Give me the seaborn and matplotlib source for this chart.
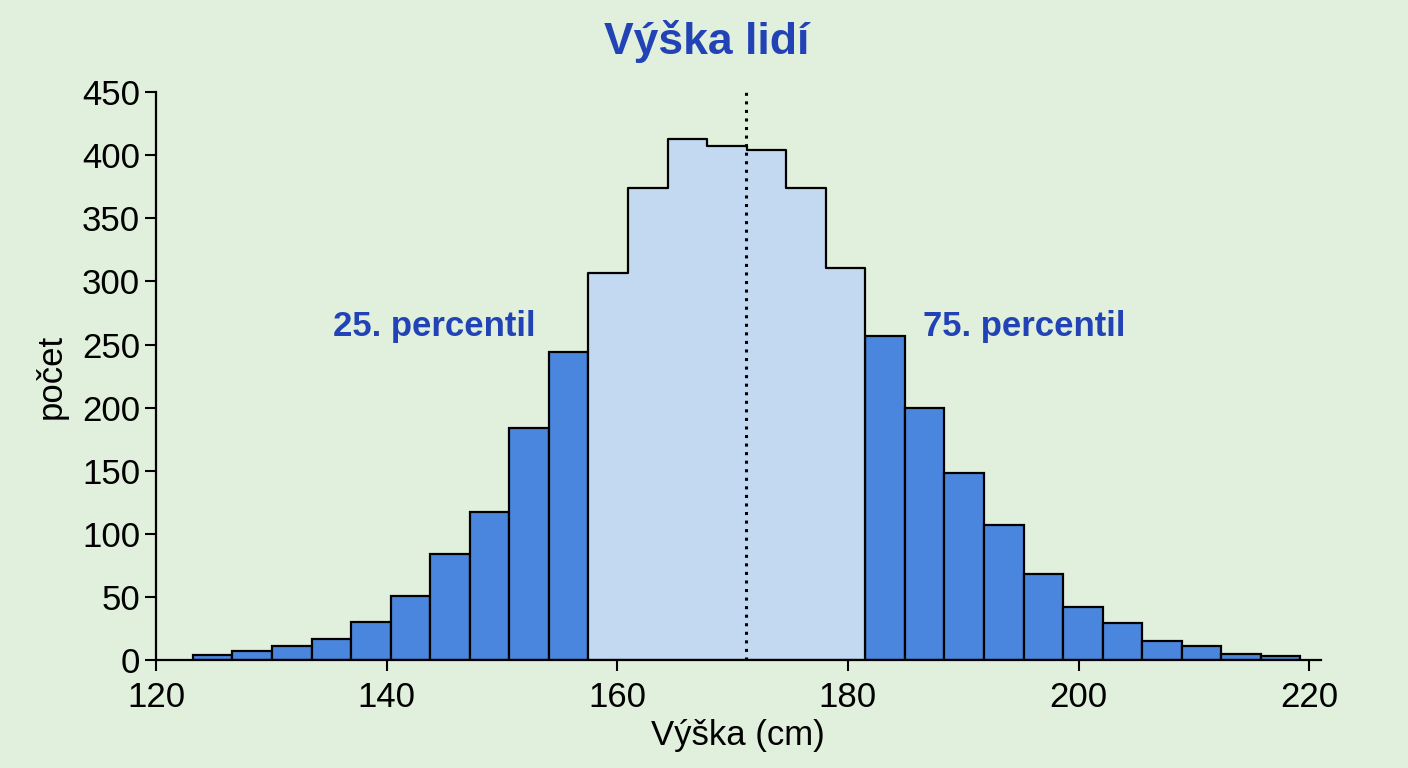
"""
Histogram of people's heights with the interquartile band highlighted
"""

import numpy as np
import pandas as pd
import matplotlib
matplotlib.use('Agg')
import matplotlib.pyplot as plt
import seaborn as sns

# histogram data
BIN_START = 123.2
BIN_WIDTH = 3.43
COUNTS = [4, 7, 11, 17, 30, 51, 84, 117, 184, 244,
          307, 374, 413, 407, 404, 374, 311,
          257, 200, 148, 107, 68, 42, 29, 15, 11, 5, 3]
INNER_FIRST, INNER_LAST = 10, 16   # bins between the 25th and 75th percentile
MEDIAN = 171.2

TITLE = 'Výška lidí'
X_LABEL = 'Výška (cm)'
Y_LABEL = 'počet'
LABEL_P25 = '25. percentil'
LABEL_P75 = '75. percentil'
X_TICKS = [120, 140, 160, 180, 200, 220]
Y_TICKS = [0, 50, 100, 150, 200, 250, 300, 350, 400, 450]

BG = '#e1f0dc'
DARK = '#4a86de'
LIGHT = '#c2d9f1'
ACCENT = '#2243b6'

sns.set_style('ticks')
plt.rcParams['font.family'] = ['Liberation Sans', 'DejaVu Sans']
plt.rcParams['text.color'] = 'black'
plt.rcParams['axes.labelcolor'] = 'black'
plt.rcParams['xtick.color'] = 'black'
plt.rcParams['ytick.color'] = 'black'
plt.rcParams['axes.edgecolor'] = 'black'

edges = BIN_START + BIN_WIDTH * np.arange(len(COUNTS) + 1)
df = pd.DataFrame({
    'height': (edges[:-1] + edges[1:]) / 2,
    'count': COUNTS,
})
df['inner'] = (df.index >= INNER_FIRST) & (df.index <= INNER_LAST)

fig = plt.figure(figsize=(14.08, 7.68), dpi=100, facecolor=BG)
ax = fig.add_axes([0.1108, 0.1406, 0.8272, 0.7394])
ax.set_facecolor(BG)

# outer bins: individual bars
sns.histplot(data=df[~df['inner']], x='height', weights='count',
             bins=edges.tolist(),
             element='bars', color=DARK, alpha=1, edgecolor='black',
             linewidth=1.6, ax=ax)
# inner bins: one filled step outline
sns.histplot(data=df[df['inner']], x='height', weights='count',
             bins=edges[INNER_FIRST:INNER_LAST + 2].tolist(),
             element='step', color=LIGHT, alpha=1, edgecolor='black',
             linewidth=1.6, ax=ax)

ax.set_xlim(120, 221)
ax.set_ylim(0, 450)
ax.axvline(MEDIAN, color='black', linestyle=(0, (1, 1.8)), linewidth=2.2)

ax.set_xticks(X_TICKS)
ax.set_yticks(Y_TICKS)
ax.tick_params(axis='both', labelsize=25, length=8, width=1.5,
               color='black', labelcolor='black')
ax.tick_params(axis='x', pad=7)
for s in ['left', 'bottom']:
    ax.spines[s].set_linewidth(1.6)
sns.despine(ax=ax)

ax.set_xlabel(X_LABEL, fontsize=25, labelpad=4, color='black')
ax.set_ylabel(Y_LABEL, fontsize=25, labelpad=10, color='black')

ax.text(144.1, 264, LABEL_P25, color=ACCENT, fontsize=25, fontweight='bold',
        ha='center', va='center')
ax.text(195.3, 264, LABEL_P75, color=ACCENT, fontsize=25, fontweight='bold',
        ha='center', va='center')

fig.text(0.502, 0.946, TITLE, color=ACCENT, fontsize=32, fontweight='bold',
         ha='center', va='center')

fig.savefig('out.png', dpi=100, facecolor=BG)
